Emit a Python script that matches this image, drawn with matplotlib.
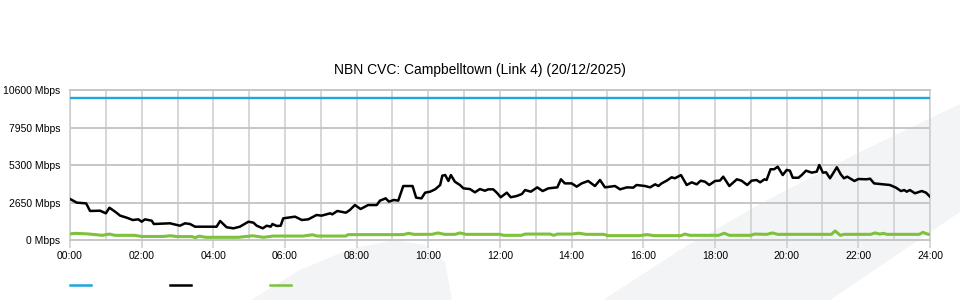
import matplotlib
matplotlib.use("Agg")
import matplotlib.pyplot as plt
from matplotlib.lines import Line2D
from matplotlib.patches import Polygon
from matplotlib.ticker import FuncFormatter

plt.rcParams['font.family'] = ['Liberation Sans', 'DejaVu Sans']

title = "NBN CVC: Campbelltown (Link 4) (20/12/2025)"

# capacity line
cap_hours = [0, 24]
cap_mbps = [10000, 10000]

# black series (hours, Mbps)
traffic_hours = [
    0.00, 0.19, 0.45, 0.56, 0.84, 1.00, 1.10, 1.26, 1.40, 1.58, 1.75, 1.91, 2.00, 2.09,
    2.28, 2.34, 2.79, 3.07, 3.21, 3.35, 3.49, 4.09, 4.19, 4.37, 4.56, 4.74, 4.98, 5.12,
    5.21, 5.38, 5.49, 5.60, 5.65, 5.77, 5.88, 5.95, 6.09, 6.28, 6.47, 6.65, 6.88, 7.02,
    7.26, 7.32, 7.46, 7.70, 7.81, 7.95, 8.11, 8.32, 8.56, 8.65, 8.81, 8.90, 9.04, 9.16,
    9.30, 9.56, 9.66, 9.81, 9.91, 10.05, 10.19, 10.33, 10.39, 10.47, 10.56, 10.63, 10.74,
    10.88, 10.98, 11.16, 11.30, 11.44, 11.58, 11.67, 11.81, 11.91, 12.02, 12.19, 12.30,
    12.47, 12.61, 12.70, 12.86, 13.04, 13.19, 13.35, 13.60, 13.70, 13.81, 14.00, 14.14,
    14.28, 14.46, 14.65, 14.79, 14.93, 15.21, 15.35, 15.54, 15.72, 15.81, 16.05, 16.19,
    16.33, 16.42, 16.51, 16.65, 16.79, 16.88, 17.05, 17.21, 17.35, 17.49, 17.60, 17.72,
    17.84, 18.00, 18.14, 18.23, 18.40, 18.61, 18.74, 18.90, 19.02, 19.16, 19.26, 19.38,
    19.44, 19.55, 19.65, 19.75, 19.89, 20.00, 20.09, 20.17, 20.33, 20.42, 20.54, 20.70,
    20.84, 20.91, 21.01, 21.10, 21.21, 21.40, 21.51, 21.60, 21.69, 21.89, 22.00, 22.23,
    22.33, 22.44, 22.70, 22.88, 23.05, 23.19, 23.28, 23.35, 23.44, 23.58, 23.77, 23.89,
    24.00]
traffic_mbps = [
    2900, 2640, 2590, 2050, 2070, 1885, 2280, 2000, 1720, 1580, 1413, 1460, 1293, 1460,
    1365, 1130, 1180, 1010, 1180, 1130, 940, 940, 1343, 900, 825, 940, 1293, 1225,
    1010, 825, 1010, 940, 1130, 990, 1010, 1530, 1580, 1650, 1413, 1460, 1767, 1720,
    1885, 1815, 2050, 1930, 2120, 2470, 2190, 2470, 2470, 2780, 2945, 2710, 2830, 2780,
    3815, 3815, 2990, 2945, 3345, 3415, 3580, 3887, 4545, 4590, 4170, 4590, 4120,
    3887, 3650, 3600, 3370, 3600, 3480, 3580, 3580, 3345, 3020, 3345, 3020,
    3110, 3250, 3530, 3415, 3720, 3460, 3650, 3720, 4290, 4000, 4000, 3770,
    4000, 4170, 3815, 4240, 3720, 3815, 3580, 3720, 3700, 3887, 3815, 3720,
    3935, 3815, 4000, 4190, 4430, 4360, 4590, 3887, 4075, 3935, 4190, 4120,
    3887, 4170, 4200, 4475, 3815, 4290, 4190, 3887, 4190, 4240, 4075, 4290,
    4240, 5000, 5000, 5180, 4590, 4950, 4900, 4400, 4400, 4590, 4900, 4760,
    4830, 5300, 4760, 4785, 4360, 5140, 4640, 4360, 4475, 4170, 4310, 4290,
    4330, 4000, 3935, 3887, 3700, 3460, 3530, 3415, 3530, 3300, 3460, 3345,
    3060]

# green series
low_hours = [
    0, 0.15, 0.5, 0.9, 1.1, 1.25, 1.8, 2.0, 2.6, 2.8, 3.0, 3.4, 3.5, 3.6, 3.8, 4.7,
    5.1, 5.4, 5.67, 6.5, 6.77, 6.9, 7.7, 7.76, 9.3, 9.45, 9.6, 10.1, 10.27, 10.45,
    10.75, 10.88, 11.05, 12.0, 12.1, 12.6, 12.7, 13.4, 13.5, 13.6, 14.0, 14.19, 14.4,
    14.9, 15.0, 15.9, 16.1, 16.3, 17.05, 17.16, 17.3, 18.1, 18.26, 18.4, 19.0, 19.1,
    19.45, 19.6, 19.75, 21.25, 21.35, 21.5, 21.6, 22.35, 22.46, 22.6, 22.7, 22.8,
    23.7, 23.8, 23.95, 24]
low_mbps = [
    430, 470, 430, 330, 420, 330, 330, 250, 250, 300, 240, 240, 170, 270, 190, 190,
    300, 190, 280, 280, 370, 280, 280, 380, 380, 470, 400, 400, 500, 400,
    400, 500, 400, 400, 330, 330, 420, 420, 330, 420, 420, 480, 400,
    400, 310, 310, 380, 310, 310, 420, 330, 330, 480, 330, 330, 420,
    400, 500, 400, 400, 640, 330, 400, 400, 500, 420, 470, 400,
    400, 540, 400, 400]

y_ticks = [0, 2650, 5300, 7950, 10600]
x_ticks = list(range(0, 25, 2))
x_labels = ["%02d:00" % h for h in x_ticks]

BLUE = "#1fa5df"
GREEN = "#7dc13c"
GRID_H = "#c6c6c6"
GRID_V = "#cdcdcd"
WATERMARK = "#f3f4f6"

W, H = 960, 300


def fx(px):
    return px / W


def fy(py):
    return 1 - py / H


def main():
    fig = plt.figure(figsize=(9.6, 3.0), dpi=100)

    # faint background shapes
    band = [(603, 300), (680, 250), (760, 204), (860, 152), (960, 104), (960, 212), (830, 300)]
    blob = [(251, 300), (300, 270), (350, 249), (395, 240), (425, 245), (445, 262), (452, 300)]
    for shape in (band, blob):
        fig.add_artist(Polygon([(fx(a), fy(b)) for a, b in shape], closed=True,
                               facecolor=WATERMARK, edgecolor='none', zorder=0))

    ax = fig.add_axes([fx(70), fy(240), fx(930) - fx(70), fy(90) - fy(240)])
    ax.patch.set_alpha(0)
    ax.set_zorder(1)

    ax.plot(cap_hours, cap_mbps, color=BLUE, lw=1.7, zorder=3)
    ax.plot(low_hours, low_mbps, color=GREEN, lw=2.2, zorder=3)
    ax.plot(traffic_hours, traffic_mbps, color="black", lw=1.8, zorder=4)

    ax.set_xlim(0, 24)
    ax.set_ylim(0, 10600)

    ax.set_xticks(x_ticks)
    ax.set_xticklabels(x_labels)
    ax.set_xticks(range(0, 25), minor=True)
    ax.set_yticks(y_ticks)
    ax.yaxis.set_major_formatter(FuncFormatter(lambda v, p: "%d Mbps" % v))

    ax.tick_params(axis='x', which='major', direction='out', length=6, width=1.1,
                   color=GRID_V, pad=2, labelsize=7.5, labelcolor='black')
    ax.tick_params(axis='x', which='minor', length=0)
    ax.tick_params(axis='y', length=0, pad=7, labelsize=7.5, labelcolor='black')

    ax.grid(True, axis='x', which='both', color=GRID_V, lw=1.1, zorder=1)
    ax.grid(True, axis='y', which='major', color=GRID_H, lw=1.4, zorder=1)
    ax.set_axisbelow(True)

    for side in ('top', 'bottom'):
        ax.spines[side].set_color(GRID_H)
        ax.spines[side].set_linewidth(1.4)
    for side in ('left', 'right'):
        ax.spines[side].set_color(GRID_V)
        ax.spines[side].set_linewidth(1.1)

    fig.text(0.5, fy(70), title, ha='center', va='center', fontsize=10)

    # legend swatches without labels
    for x0, c in ((70, BLUE), (170, "black"), (270, GREEN)):
        fig.add_artist(Line2D([fx(x0), fx(x0 + 21)], [fy(285), fy(285)],
                              color=c, lw=1.8))

    fig.savefig("out.png", dpi=100)


if __name__ == '__main__':
    main()
